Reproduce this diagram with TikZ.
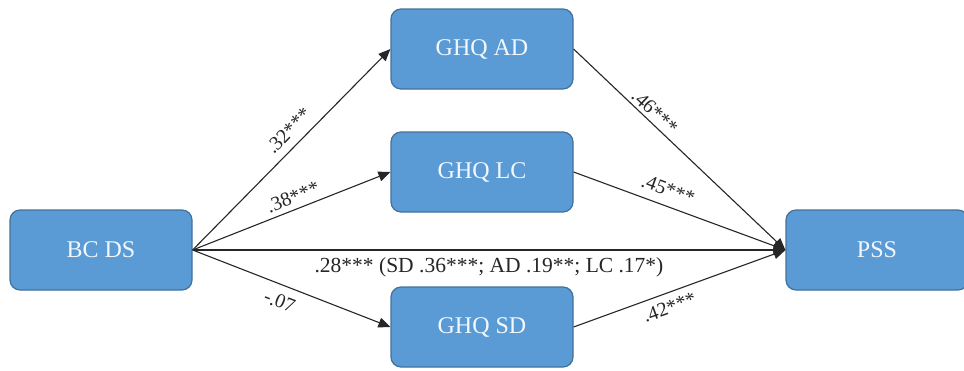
\documentclass[tikz,border=0pt]{standalone}
\usepackage{fontspec}
\setmainfont{Liberation Serif}
\usetikzlibrary{arrows.meta}
\begin{document}
\begin{tikzpicture}[x=1pt,y=-1pt,
  box/.style={draw=boxedge, fill=boxfill, line width=1.2pt, rounded corners=10pt,
    minimum width=182pt, minimum height=80pt, inner sep=0pt,
    text=boxtext, font=\fontsize{24}{28}\selectfont},
  path/.style={draw=black!85, line width=1.1pt, -{Triangle[length=12pt,width=10pt]}},
  lbl/.style={font=\fontsize{20}{22}\selectfont, text=black!85, inner sep=1pt},
  midlbl/.style={font=\fontsize{21.5}{24}\selectfont, text=black!85, inner sep=1pt}]
\definecolor{boxfill}{HTML}{5B9BD5}
\definecolor{boxedge}{HTML}{41719C}
\definecolor{boxtext}{HTML}{F2F7FC}
\useasboundingbox (0,0) rectangle (964,370);
\node[box] (bc) at (101,250) {BC DS};
\node[box] (ad) at (482,49) {GHQ AD};
\node[box] (lc) at (482,172) {GHQ LC};
\node[box] (sd) at (482,327) {GHQ SD};
\node[box] (pss) at (877,250) {PSS};
\draw[path] (bc.east) -- (ad.west) node[lbl, pos=0.54, above=7pt, sloped] {.32***};
\draw[path] (bc.east) -- (lc.west) node[lbl, pos=0.53, above=4pt, sloped] {.38***};
\draw[path] (bc.east) -- (sd.west) node[lbl, pos=0.47, below=8pt, sloped] {-.07};
\draw[path] (bc.east) -- (pss.west) node[midlbl, pos=0.5, below=6pt] {.28*** (SD .36***; AD .19**; LC .17*)};
\draw[path] (ad.east) -- (pss.west) node[lbl, pos=0.35, above=2pt, sloped] {.46***};
\draw[path] (lc.east) -- (pss.west) node[lbl, pos=0.42, above=8pt, sloped] {.45***};
\draw[path] (sd.east) -- (pss.west) node[lbl, pos=0.43, below=6pt, sloped] {.42***};
\end{tikzpicture}
\end{document}
